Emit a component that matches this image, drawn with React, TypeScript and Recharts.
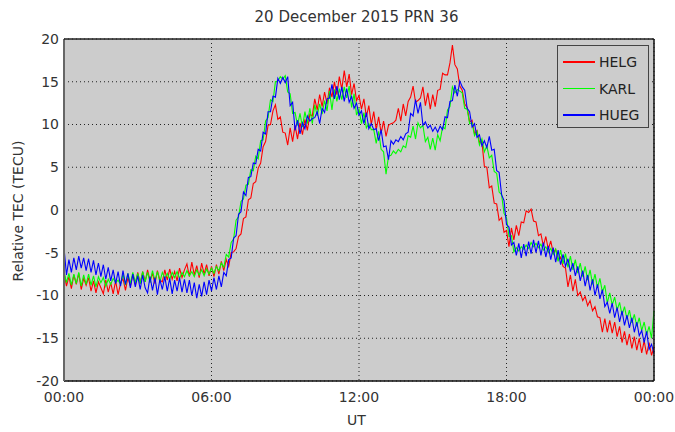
import React from 'react';
import { LineChart, Line, XAxis, YAxis, CartesianGrid } from 'recharts';

// sampling interval of the series, in hours
const STEP_H = 0.1;

const hourTicks = [0, 6, 12, 18, 24];
const hourLabels = ['00:00', '06:00', '12:00', '18:00', '00:00'];
const tecTicks = [-20, -15, -10, -5, 0, 5, 10, 15, 20];

const stations = ['HELG', 'KARL', 'HUEG'];
const stationColors = ['#ff0000', '#00ff00', '#0000ff'];

// relative TEC per station, one value every 0.1 h from 00:00 to 24:00
const helg = [
  -7.3, -8.9, -7.8, -9.2, -7.6, -8.7, -7.4, -9.3, -8.0, -8.8,
  -7.9, -9.5, -8.3, -9.7, -8.4, -9.1, -9.8, -8.2, -9.6, -8.5,
  -9.8, -8.3, -9.9, -8.6, -8.0, -9.4, -7.9, -8.9, -7.5, -8.7,
  -7.3, -8.6, -7.2, -8.4, -7.0, -8.3, -7.4, -8.6, -7.1, -8.2,
  -8.4, -7.0, -8.2, -6.9, -8.1, -7.2, -8.3, -6.8, -7.9, -7.0,
  -6.3, -7.8, -6.1, -7.6, -6.5, -7.9, -6.2, -7.5, -6.4, -7.7,
  -6.6, -7.8, -6.4, -7.5, -6.0, -7.1, -5.8, -6.6, -5.0, -4.9,
  -4.5, -3.1, -2.8, -1.0, -0.8, 1.2, 1.4, 3.1, 3.3, 4.9,
  5.5, 7.4, 8.0, 9.9, 10.0, 11.6, 12.3, 10.6, 10.9, 9.1,
  9.0, 7.6, 9.6, 8.0, 9.9, 8.3, 10.2, 8.8, 10.6, 9.3,
  11.2, 11.0, 13.0, 11.7, 13.5, 12.1, 13.8, 12.4, 14.3, 13.2,
  15.0, 13.5, 15.6, 14.1, 16.3, 14.4, 15.9, 13.5, 14.8, 12.8,
  13.4, 11.8, 13.0, 10.9, 12.2, 10.0, 11.5, 9.4, 10.9, 9.0,
  10.4, 8.6, 9.9, 10.1, 10.2, 10.5, 11.9, 10.4, 12.4, 11.0,
  12.7, 13.2, 14.5, 12.6, 12.8, 13.1, 14.4, 12.2, 13.7, 11.8,
  13.5, 12.1, 14.0, 14.1, 16.0, 15.8, 15.8, 17.2, 19.3, 17.0,
  16.5, 14.5, 14.0, 12.4, 12.0, 10.3, 10.5, 8.9, 9.3, 7.9,
  8.0, 5.1, 5.0, 2.6, 2.8, 0.8, 0.7, -1.2, -0.9, -2.6,
  -2.4, -4.3, -2.1, -3.5, -1.8, -3.0, -1.4, -1.5, -0.1, -0.3,
  0.1, -1.3, -1.4, -3.0, -2.8, -4.2, -3.1, -4.6, -3.6, -5.0,
  -4.6, -5.8, -5.5, -6.6, -6.8, -9.0, -7.6, -9.5, -8.1, -10.0,
  -9.6, -10.6, -10.1, -11.2, -10.6, -11.8, -11.3, -12.5, -12.6, -14.3,
  -12.7, -14.3, -12.9, -14.4, -13.1, -14.8, -13.6, -15.5, -14.2, -15.8,
  -14.5, -16.2, -14.8, -16.4, -15.0, -16.7, -15.3, -16.9, -15.5, -17.0,
  -16.0,
];

const karl = [
  -7.2, -8.5, -7.4, -8.8, -7.5, -8.6, -7.3, -8.9, -7.6, -8.7,
  -7.5, -8.8, -7.7, -9.0, -7.8, -8.5, -7.9, -8.9, -8.1, -8.7,
  -8.0, -8.5, -8.2, -8.7, -7.5, -8.8, -7.4, -8.6, -7.3, -8.5,
  -7.4, -8.6, -7.2, -8.4, -7.3, -8.5, -7.1, -8.3, -7.2, -8.4,
  -7.3, -8.0, -7.4, -8.1, -7.3, -7.9, -7.2, -8.0, -7.3, -7.8,
  -7.1, -7.7, -7.2, -7.8, -7.0, -7.6, -7.0, -7.7, -6.9, -7.5,
  -6.8, -7.4, -6.6, -7.1, -6.2, -6.7, -5.2, -5.5, -3.8, -3.4,
  -1.2, -0.8, 1.0, 1.3, 2.9, 3.0, 4.7, 4.6, 6.3, 6.0,
  8.1, 8.2, 10.4, 10.8, 12.9, 12.7, 15.0, 15.1, 15.6, 15.3,
  15.7, 13.8, 13.6, 11.3, 11.4, 9.9, 11.3, 9.7, 11.5, 10.1,
  11.9, 10.1, 12.3, 11.0, 12.4, 11.2, 12.8, 11.6, 13.9, 11.7,
  14.1, 12.7, 14.2, 12.9, 14.4, 13.1, 14.5, 12.0, 13.6, 11.1,
  11.8, 10.1, 11.4, 9.6, 10.1, 9.4, 9.4, 7.8, 9.2, 7.1,
  6.8, 4.2, 6.3, 6.4, 6.9, 6.6, 7.1, 6.8, 7.5, 7.3,
  8.7, 8.5, 9.8, 8.3, 10.2, 9.6, 9.9, 8.0, 8.5, 7.1,
  8.4, 7.0, 8.8, 8.1, 9.7, 9.5, 11.7, 12.1, 14.4, 13.7,
  14.1, 13.9, 13.7, 11.9, 11.8, 10.1, 10.2, 8.7, 9.2, 7.6,
  8.3, 6.8, 7.5, 6.1, 6.4, 4.5, 4.3, 2.1, 1.8, -0.4,
  -0.9, -3.1, -3.0, -4.9, -4.4, -4.8, -4.3, -4.6, -4.1, -4.5,
  -3.8, -4.3, -3.9, -4.4, -4.0, -4.7, -4.3, -4.9, -4.5, -5.2,
  -4.6, -6.0, -4.7, -6.3, -5.1, -6.7, -5.4, -7.0, -5.8, -7.4,
  -6.2, -7.8, -6.6, -8.2, -7.0, -8.7, -7.5, -9.1, -8.0, -9.6,
  -8.8, -10.9, -9.7, -11.1, -10.2, -11.7, -10.8, -12.3, -11.3, -12.8,
  -11.7, -13.2, -12.2, -13.6, -12.6, -14.1, -13.1, -14.6, -13.6, -15.0,
  -11.8,
];

const hueg = [
  -4.4, -7.6, -5.8, -7.3, -5.6, -7.0, -5.4, -6.8, -5.6, -7.1,
  -5.7, -7.3, -5.9, -7.6, -6.2, -7.8, -6.4, -8.1, -6.7, -8.3,
  -7.0, -8.6, -7.2, -8.9, -7.1, -8.7, -7.4, -9.1, -7.5, -9.0,
  -7.7, -9.3, -7.6, -9.1, -9.7, -7.8, -9.4, -7.9, -9.9, -8.1,
  -9.3, -7.8, -9.5, -8.0, -9.8, -8.2, -9.5, -7.9, -9.6, -8.1,
  -9.7, -8.2, -10.0, -8.5, -10.3, -8.7, -10.1, -8.4, -9.9, -8.2,
  -9.5, -7.9, -9.3, -7.7, -9.0, -7.3, -7.7, -5.8, -5.6, -3.3,
  -3.0, -0.5, -0.2, 2.1, 1.7, 3.8, 3.9, 5.5, 5.4, 7.1,
  6.9, 9.1, 8.9, 11.5, 11.5, 13.3, 13.2, 15.4, 14.8, 15.5,
  14.9, 15.6, 12.2, 12.6, 9.3, 10.5, 8.9, 10.2, 9.5, 11.0,
  10.4, 10.7, 10.8, 11.5, 10.1, 11.9, 11.4, 13.0, 13.1, 14.7,
  13.0, 14.5, 12.9, 14.4, 12.7, 14.2, 12.6, 13.3, 11.9, 12.5,
  11.1, 11.6, 10.1, 11.4, 9.5, 10.1, 9.4, 9.5, 8.1, 9.4,
  7.4, 7.5, 5.9, 8.1, 7.7, 8.2, 8.0, 8.6, 8.2, 8.9,
  9.1, 11.3, 11.0, 12.9, 11.3, 12.6, 9.9, 10.3, 9.6, 9.9,
  9.2, 9.7, 9.1, 9.8, 9.4, 10.9, 10.8, 12.7, 12.8, 14.6,
  13.3, 15.1, 14.4, 14.0, 11.9, 11.5, 9.7, 10.1, 8.5, 8.8,
  7.5, 8.1, 7.3, 8.6, 7.0, 7.1, 4.6, 4.4, 1.8, 1.1,
  -1.7, -2.0, -4.1, -3.8, -5.3, -3.9, -5.6, -4.0, -5.4, -3.7,
  -5.1, -3.5, -5.0, -3.6, -5.3, -3.8, -5.5, -4.2, -5.8, -4.4,
  -6.1, -4.7, -6.4, -5.2, -6.6, -5.7, -7.2, -6.2, -7.7, -6.6,
  -8.3, -7.1, -8.9, -7.6, -9.4, -8.1, -10.0, -8.7, -10.4, -9.3,
  -11.3, -10.8, -12.1, -10.9, -12.6, -11.4, -13.1, -11.8, -13.5, -12.3,
  -13.8, -12.6, -14.3, -13.1, -14.7, -14.1, -15.5, -14.2, -16.3, -15.7,
  -16.8,
];

const data = helg.map((v, i) => ({
  t: Math.round(i * STEP_H * 10) / 10,
  HELG: v,
  KARL: karl[i],
  HUEG: hueg[i],
}));

const FONT = '"DejaVu Sans", Verdana, sans-serif';
const tickStyle = { fill: '#333', fontSize: 14, fontFamily: FONT };

const fmtHour = (v: number) => hourLabels[hourTicks.indexOf(v)] ?? '';

export default function App() {
  return (
    <div style={{ position: 'absolute', left: 0, top: 0, width: 675, height: 432, background: '#fff', fontFamily: FONT }}>
      <LineChart
        width={675}
        height={432}
        data={data}
        margin={{ top: 39, right: 21, bottom: 0, left: 0 }}
      >
        <CartesianGrid fill="#cccccc" stroke="#222" strokeDasharray="1 3" />

        {/* main axes, labels outside */}
        <XAxis
          dataKey="t"
          type="number"
          domain={[0, 24]}
          ticks={hourTicks}
          interval={0}
          tickFormatter={fmtHour}
          height={51}
          tickSize={0}
          tickMargin={11}
          tickLine={false}
          axisLine={{ stroke: '#111', strokeWidth: 1.5 }}
          tick={tickStyle}
        />
        <YAxis
          type="number"
          domain={[-20, 20]}
          ticks={tecTicks}
          interval={0}
          width={64}
          tickSize={0}
          tickMargin={5}
          tickLine={false}
          axisLine={{ stroke: '#666', strokeWidth: 2 }}
          tick={tickStyle}
        />

        {/* inward tick marks and the rest of the frame */}
        <XAxis xAxisId="bt" type="number" domain={[0, 24]} ticks={hourTicks} interval={0}
          orientation="bottom" mirror height={1} tick={false} tickSize={6} axisLine={false}
          tickLine={{ stroke: '#333', strokeWidth: 1.5 }} />
        <XAxis xAxisId="top" type="number" domain={[0, 24]} ticks={hourTicks} interval={0}
          orientation="top" mirror height={1} tick={false} tickSize={6}
          axisLine={{ stroke: '#222', strokeWidth: 1.5 }} tickLine={{ stroke: '#333', strokeWidth: 1.5 }} />
        <YAxis yAxisId="lt" type="number" domain={[-20, 20]} ticks={tecTicks} interval={0}
          orientation="left" mirror width={1} tick={false} tickSize={5} axisLine={false}
          tickLine={{ stroke: '#333', strokeWidth: 1.5 }} />
        <YAxis yAxisId="right" type="number" domain={[-20, 20]} ticks={tecTicks} interval={0}
          orientation="right" mirror width={1} tick={false} tickSize={6}
          axisLine={{ stroke: '#111', strokeWidth: 1.5 }} tickLine={{ stroke: '#555', strokeWidth: 2 }} />

        {stations.map((s, i) => (
          <Line
            key={s}
            type="linear"
            dataKey={s}
            name={s}
            stroke={stationColors[i]}
            strokeWidth={1.1}
            dot={false}
            activeDot={false}
            isAnimationActive={false}
          />
        ))}
      </LineChart>

      {/* Title */}
      <div style={{ position: 'absolute', left: 0, width: 713, top: 8, textAlign: 'center', fontSize: 15, color: '#333' }}>
        20 December 2015 PRN 36
      </div>

      {/* Axis labels */}
      <div style={{ position: 'absolute', left: 347, top: 412, fontSize: 14, color: '#333' }}>UT</div>
      <div
        style={{
          position: 'absolute',
          left: 18,
          top: 211,
          fontSize: 14,
          color: '#333',
          whiteSpace: 'nowrap',
          transform: 'translate(-50%, -50%) rotate(-90deg)',
        }}
      >
        Relative TEC (TECU)
      </div>

      {/* Legend box */}
      <div
        style={{
          position: 'absolute',
          left: 557,
          top: 45,
          width: 90,
          height: 81,
          border: '1.5px solid #444',
          background: '#cccccc',
        }}
      >
        {stations.map((s, i) => (
          <div key={s} style={{ position: 'absolute', left: 5, top: 6 + i * 26.5, height: 20, display: 'flex', alignItems: 'center' }}>
            <div style={{ width: 32, height: 1.5, background: stationColors[i] }} />
            <span style={{ marginLeft: 4, fontSize: 14, color: '#222' }}>{s}</span>
          </div>
        ))}
      </div>
    </div>
  );
}
